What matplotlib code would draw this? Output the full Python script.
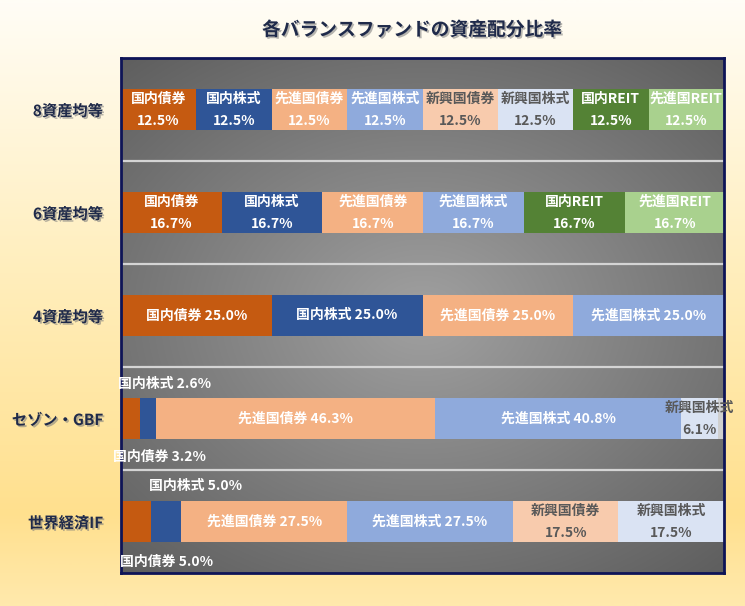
import numpy as np
import matplotlib
matplotlib.use("Agg")
import matplotlib.pyplot as plt
import matplotlib.patheffects as pe
from matplotlib.colors import LinearSegmentedColormap

plt.rcParams['font.family'] = ['Noto Sans CJK JP', 'DejaVu Sans']

# ---------------- data ----------------
title = '各バランスファンドの資産配分比率'
funds = ['8資産均等', '6資産均等', '4資産均等', 'セゾン・GBF', '世界経済IF']
assets = ['国内債券', '国内株式', '先進国債券', '先進国株式', '新興国債券',
          '新興国株式', '国内REIT', '先進国REIT', 'その他']
domestic_bond = [12.5, 16.7, 25.0, 3.2, 5.0]
domestic_stock = [12.5, 16.7, 25.0, 2.6, 5.0]
developed_bond = [12.5, 16.7, 25.0, 46.3, 27.5]
developed_stock = [12.5, 16.7, 25.0, 40.8, 27.5]
emerging_bond = [12.5, 0.0, 0.0, 0.0, 17.5]
emerging_stock = [12.5, 0.0, 0.0, 6.1, 17.5]
domestic_reit = [12.5, 16.7, 0.0, 0.0, 0.0]
developed_reit = [12.5, 16.7, 0.0, 0.0, 0.0]
other = [0.0, 0.0, 0.0, 1.0, 0.0]
series = [domestic_bond, domestic_stock, developed_bond, developed_stock,
          emerging_bond, emerging_stock, domestic_reit, developed_reit, other]

colors = ['#C55A11', '#2F5597', '#F4B183', '#8FAADC', '#F8CBAD',
          '#DAE3F3', '#548235', '#A9D18E', '#CFCFCF']
text_colors = ['white', 'white', 'white', 'white', '#595959',
               '#595959', 'white', 'white', None]

navy = '#1F2A4A'

# ---------------- figure ----------------
W, H = 745, 606
fig = plt.figure(figsize=(W / 100, H / 100), dpi=100)

# figure background gradient
bg = fig.add_axes([0, 0, 1, 1], zorder=-10)
bg_cmap = LinearSegmentedColormap.from_list(
    'bg', [(0.0, '#FFFDF6'), (0.45, '#FFEEBC'), (0.85, '#FFE08E'), (1.0, '#FFE9AC')])
grad = np.linspace(0, 1, 300).reshape(-1, 1)
bg.imshow(grad, aspect='auto', cmap=bg_cmap, extent=[0, 1, 0, 1], origin='upper')
bg.set_axis_off()

ax = fig.add_axes([121 / W, 33 / H, 603 / W, 515 / H])
ax.set_facecolor('none')

# plot-area radial gradient
ny, nx = 200, 300
yy, xx = np.mgrid[-1:1:ny * 1j, -1:1:nx * 1j]
r = np.sqrt((xx * 0.9) ** 2 + (yy * 1.0) ** 2) / np.sqrt(0.81 + 1.0)
gray = 0.63 - 0.26 * r
img = np.dstack([gray, gray, gray])
ax.imshow(img, extent=[0, 100, 4.5, -0.5], aspect='auto', zorder=0,
          interpolation='bilinear')

ypos = np.arange(len(funds))
bar_h = 0.4
left = np.zeros(len(funds))
for k, (name, vals) in enumerate(zip(assets, series)):
    vals = np.array(vals)
    ax.barh(ypos, vals, left=left, height=bar_h, color=colors[k],
            edgecolor='none', zorder=3)
    left = left + vals

# gridlines between categories
for b in np.arange(0.5, len(funds) - 0.5, 1.0):
    ax.axhline(b, color='#D4D4D4', lw=1.6, zorder=1)

# ---------------- labels ----------------
fs = 10
# outside labels for small slices: (fund index, asset index) -> (x, dy)
outside = {
    (3, 0): (-1.3, 0.37),
    (3, 1): (-0.5, -0.335),
    (4, 0): (-0.15, 0.39),
    (4, 1): (4.6, -0.345),
}
for i in range(len(funds)):
    cum = 0.0
    for k in range(len(assets)):
        v = series[k][i]
        if v <= 0 or assets[k] == 'その他':
            cum += v
            continue
        cx = cum + v / 2
        lab = f'{v:.1f}%'
        tc = text_colors[k]
        if (i, k) in outside:
            x0, dy = outside[(i, k)]
            ax.text(x0, i + dy, f'{assets[k]} {lab}', ha='left', va='center',
                    color='white', fontsize=fs, fontweight='bold', zorder=8,
                    clip_on=False)
        elif i in (0, 1) or k in (4, 5):
            ax.text(cx, i - 0.105, assets[k], ha='center', va='center',
                    color=tc, fontsize=fs, fontweight='bold', zorder=8,
                    clip_on=False)
            ax.text(cx, i + 0.11, lab, ha='center', va='center',
                    color=tc, fontsize=fs, fontweight='bold', zorder=8,
                    clip_on=False)
        else:
            ax.text(cx, i, f'{assets[k]} {lab}', ha='center', va='center',
                    color=tc, fontsize=fs, fontweight='bold', zorder=8)
        cum += v

ax.set_xlim(0, 100)
ax.set_ylim(len(funds) - 0.5, -0.5)
ax.set_xticks([])
ax.set_yticks(ypos)
shadow = [pe.withSimplePatchShadow(offset=(1.2, -1.2), shadow_rgbFace='#7A7A7A', alpha=0.55)]
ax.set_yticklabels(funds, fontsize=11, fontweight='bold', color=navy)
for t in ax.get_yticklabels():
    t.set_path_effects(shadow)
ax.tick_params(axis='y', length=0, pad=13)
for s in ax.spines.values():
    s.set_color('#0E1457')
    s.set_linewidth(2)
    s.set_zorder(6)

fig.text(412 / W, 1 - 30 / H, title, ha='center', va='center', fontsize=13.5,
         fontweight='bold', color=navy, path_effects=shadow)

fig.savefig('out.png', dpi=100)
